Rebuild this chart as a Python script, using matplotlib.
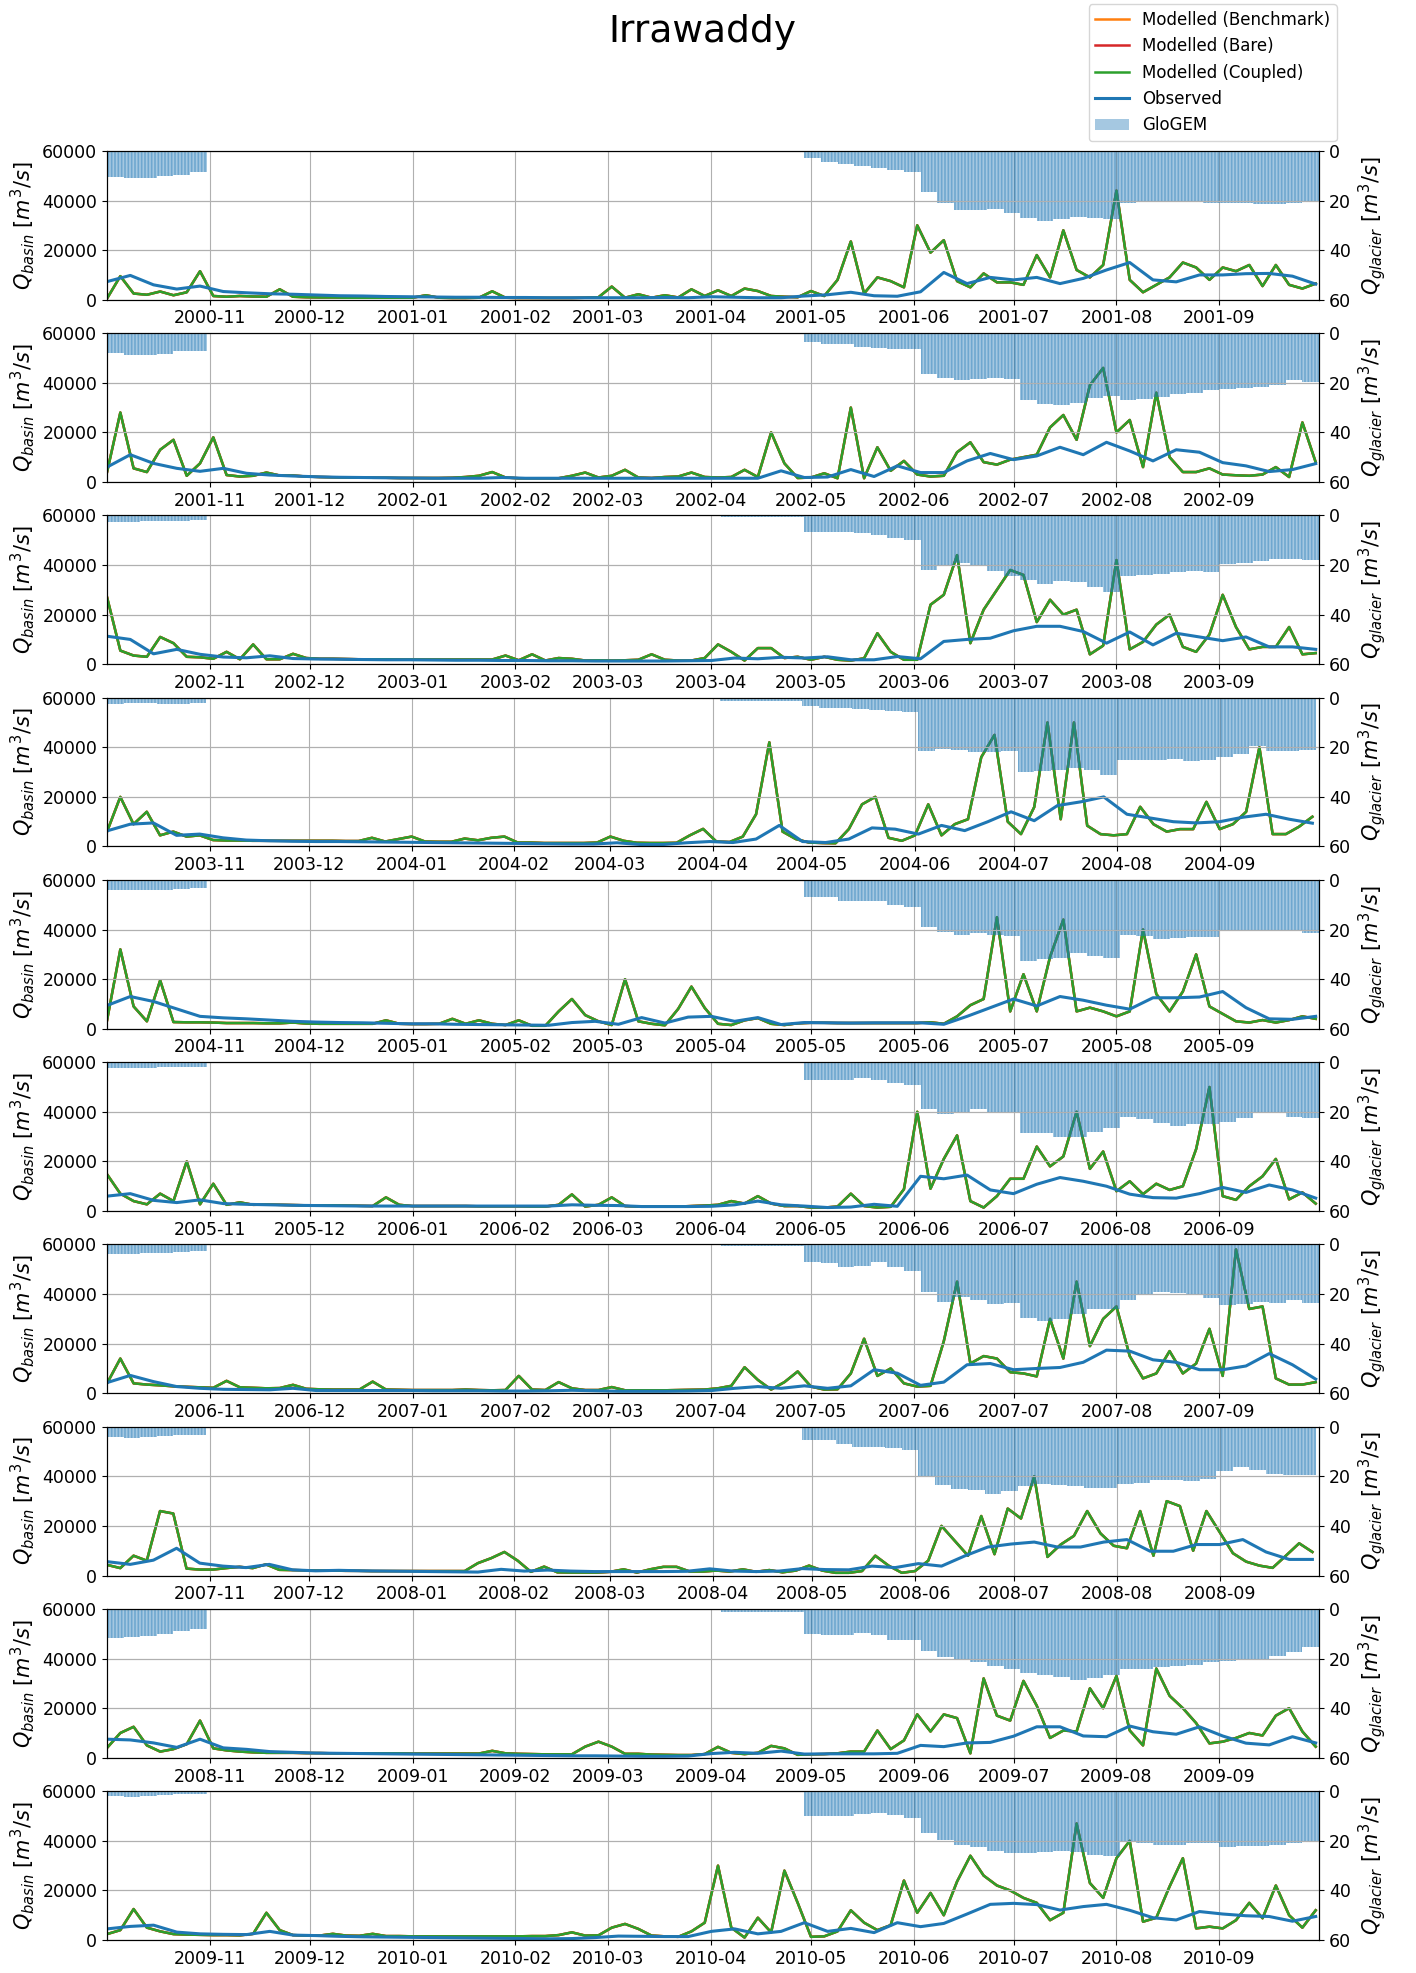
import numpy as np
import pandas as pd
import matplotlib
matplotlib.use("Agg")
import matplotlib.pyplot as plt
import matplotlib.dates as mdates
from matplotlib.patches import Patch

plt.rcParams["hatch.linewidth"] = 1.2

# hydrological years, each panel runs 1 Oct -> 30 Sep
years = [2000, 2001, 2002, 2003, 2004, 2005, 2006, 2007, 2008, 2009]

# modelled basin discharge (coupled run), 1000 m3/s, one value every 4 days from 1 Oct
q_mod_2000 = [0.5, 9.5, 2.5, 2.0, 3.3, 1.8, 3.0, 11.5, 1.5, 1.2, 1.5, 1.3, 1.2, 4.2, 1.2, 1.0, 0.9, 0.9, 0.8, 0.8,
              0.8, 0.8, 0.8, 0.8, 1.8, 0.8, 0.7, 0.7, 0.8, 3.4, 0.8, 0.7, 0.7, 0.7, 0.7, 0.7, 0.8, 1.0, 5.3, 0.8,
              2.2, 0.8, 1.8, 0.9, 4.2, 1.5, 3.8, 1.5, 4.5, 3.5, 1.5, 1.2, 1.0,
              3.5, 1.5, 8, 23.5, 2.5, 9, 7.5, 5, 30, 19, 24, 7.5, 5, 10.6, 7, 7, 6, 18, 9, 28,
              12, 9, 14, 44, 8, 3, 6, 9, 15, 13, 8, 13, 11.5, 14, 5.5, 14, 6, 4.5, 6.5]
q_mod_2001 = [4, 28, 5.5, 4, 13, 17, 2.5, 7.5, 18, 2.8, 2.2, 2.5, 3.8, 2.6, 2.6, 2.2, 2.0, 1.9, 1.8, 1.8,
              1.7, 1.7, 1.6, 1.6, 1.6, 1.6, 1.7, 2.0, 2.5, 4.0, 1.8, 1.5, 1.5, 1.5, 1.5, 2.5, 3.8, 1.8, 2.5, 4.9,
              1.8, 1.6, 2.0, 2.2, 3.8, 2.0, 1.8, 2.0, 4.9, 2.0, 20, 7.5, 1.6,
              1.8, 3.5, 1.5, 30, 1.5, 14, 4.5, 8.5, 3, 2.2, 2.5, 12, 16, 8, 7, 9, 10, 11, 22, 27,
              17, 39, 46, 20, 25, 6, 36, 10, 4, 4, 5.5, 3, 2.7, 2.5, 3, 6, 2, 24, 8]
q_mod_2002 = [27, 5.5, 3.5, 3, 11, 8.5, 3.0, 2.8, 2.2, 5, 2.0, 8, 2.0, 2.0, 4.2, 2.5, 2.2, 2.2, 2.1, 2.0,
              2.0, 2.0, 1.9, 1.9, 1.9, 1.9, 1.9, 1.9, 1.9, 1.9, 3.5, 1.6, 4.0, 1.5, 2.5, 2.2, 1.5, 1.6, 1.5, 1.6,
              1.8, 4.0, 1.8, 1.5, 1.5, 2.5, 8.0, 5.0, 1.5, 6.5, 6.5, 2.5, 3.0,
              1.8, 3.0, 1.8, 1.5, 2.4, 12.5, 5, 1.8, 1.8, 24, 28, 44, 8.5, 22, 30, 38, 36, 17, 26, 20,
              22, 4, 7.5, 42, 6, 9, 16, 20, 7, 5, 12, 28, 15, 6, 7, 7, 15, 4, 4.5]
q_mod_2003 = [6, 20, 9, 14, 4.5, 6, 4, 4.5, 2.6, 2.4, 2.4, 2.3, 2.3, 2.3, 2.3, 2.3, 2.3, 2.3, 2.2, 2.2,
              3.5, 2.0, 3.0, 4.0, 2.0, 1.9, 1.9, 3.2, 2.5, 3.5, 4.0, 1.6, 1.6, 1.4, 1.4, 1.4, 1.4, 1.6, 4.0, 2.3,
              1.5, 1.4, 1.4, 1.5, 4.5, 7.1, 2.0, 1.8, 4.0, 13, 42, 6.0, 3.0,
              1.6, 1.4, 1.3, 7, 17, 20, 3.5, 2.3, 4.5, 17, 4.5, 9, 11, 36, 45, 10, 5, 15.9, 50, 11,
              50, 8.4, 5, 4.5, 5, 16, 9, 6, 7, 7, 18, 7, 9, 14, 40, 5, 5, 8, 12]
q_mod_2004 = [3.4, 32, 9, 3, 19.5, 2.7, 2.6, 2.6, 2.5, 2.3, 2.3, 2.3, 2.2, 2.2, 2.5, 2.1, 2.0, 2.0, 2.0, 2.0,
              2.0, 3.4, 2.0, 1.9, 1.9, 2.0, 4.0, 2.0, 3.4, 2.0, 1.5, 3.4, 1.2, 1.2, 7, 12, 5.5, 3, 1.5, 20,
              3, 2, 1.4, 8, 17, 8.4, 2, 1.5, 3.4, 4.3, 2.0, 1.5, 2.2,
              2.4, 2.4, 2.3, 2.3, 2.3, 2.3, 2.3, 2.3, 2.3, 2.6, 2, 5, 9.5, 12, 45, 7, 22, 7, 29, 44,
              7, 8.5, 7, 5, 7, 40, 14, 7, 15, 30, 9, 6, 3, 2.5, 3.5, 2.5, 3.5, 5, 4]
q_mod_2005 = [14.8, 7, 4, 2.7, 7, 4, 20, 2.7, 11, 2.5, 3.5, 2.5, 2.6, 2.5, 2.4, 2.3, 2.3, 2.3, 2.2, 2.1,
              2.0, 5.5, 2.5, 2.0, 2.0, 2.0, 2.0, 2.0, 1.9, 1.9, 1.9, 1.9, 1.8, 1.8, 2.5, 6.7, 1.8, 2.5, 5.5, 2.0,
              1.8, 1.8, 1.8, 1.8, 2.0, 2.2, 2.5, 4, 3.0, 6, 3.0, 2.0, 2.0,
              1.4, 1.4, 1.8, 7, 2, 1.4, 1.7, 8.8, 40, 9, 21, 30.5, 4, 1.4, 6, 13, 13, 26, 18, 22,
              40, 17, 24, 8, 12, 6.8, 11, 8.5, 10, 25, 50, 6, 4.5, 10, 14, 21, 4.7, 7.5, 3]
q_mod_2006 = [4, 14, 4, 3.5, 3.2, 2.8, 2.6, 2.4, 2.2, 5, 2.4, 2.2, 2.0, 2.1, 3.4, 1.8, 1.6, 1.5, 1.5, 1.5,
              4.7, 1.5, 1.4, 1.3, 1.3, 1.3, 1.3, 1.5, 1.3, 1.2, 1.3, 7, 1.5, 1.3, 4.5, 2.0, 1.3, 1.3, 2.5, 1.2,
              1.2, 1.2, 1.2, 1.3, 1.4, 1.5, 2.0, 3.0, 10.5, 5.4, 1.5, 4.5, 8.8,
              2.7, 1.5, 1.6, 8, 22, 7, 10, 4, 2.7, 3, 21, 45, 12, 15, 14, 8.5, 8, 6.8, 30, 14,
              45, 19, 30, 35, 15, 6, 8, 17, 8, 12, 26, 7, 58, 34, 35, 6, 3.5, 3.5, 4.5]
q_mod_2007 = [4.3, 3, 8, 6, 26, 25, 2.8, 2.4, 2.4, 3.0, 3.5, 3.0, 4.5, 2.3, 2.2, 2.1, 2.0, 2.0, 1.9, 1.9,
              1.8, 1.8, 1.8, 1.8, 1.8, 1.8, 1.8, 1.8, 5.0, 7.0, 9.5, 6.0, 1.5, 3.6, 1.3, 1.2, 1.2, 1.2, 1.5, 2.5,
              1.2, 2.5, 3.5, 3.5, 1.6, 1.6, 2.0, 1.6, 2.5, 1.5, 2.2, 1.3, 2.0,
              4, 2.0, 1.1, 1.1, 1.8, 8, 4, 1.1, 1.8, 6, 20, 14, 8, 24, 8.6, 27, 23, 40, 7.5, 12.5,
              16, 26, 17, 12, 11, 26, 8, 30, 28, 10, 26, 17.5, 9, 5.6, 4, 3.1, 8, 13, 9.5]
q_mod_2008 = [4, 10, 12.5, 5, 2.5, 3.5, 5.5, 15, 3.8, 3.0, 2.5, 2.2, 2.0, 2.0, 2.0, 1.9, 1.9, 1.8, 1.8, 1.8,
              1.8, 1.8, 1.8, 1.7, 1.7, 1.7, 1.7, 1.7, 1.7, 2.8, 1.8, 1.6, 1.5, 1.4, 1.4, 1.4, 4.5, 6.5, 4.5, 1.6,
              1.6, 1.3, 1.2, 1.1, 1.1, 1.5, 4.4, 2.0, 1.5, 2.0, 4.8, 3.8, 1.2,
              1.4, 1.5, 1.8, 2.5, 2.5, 11, 3.5, 7, 17.5, 10.6, 17.5, 16, 1.8, 32, 17, 15, 31, 21, 8, 11,
              10.6, 28, 20, 33, 11, 5, 36, 25, 20, 14, 5.8, 6.5, 8, 10, 9, 17, 20, 10.6, 4.5]
q_mod_2009 = [2.4, 4, 12.5, 5, 3.5, 2.4, 2.2, 2.1, 2.0, 2.0, 1.9, 2.5, 11, 4, 2.0, 1.8, 1.8, 2.5, 1.8, 1.7,
              2.5, 1.6, 1.6, 1.5, 1.5, 1.5, 1.5, 1.5, 1.5, 1.5, 1.5, 1.5, 1.6, 1.6, 2.0, 3.1, 1.8, 1.9, 5, 6.5,
              4.5, 1.8, 1.5, 1.3, 3.5, 7, 30, 5, 1.0, 9, 3.1, 28, 15,
              1.3, 1.5, 3.5, 12, 7, 4, 6, 24, 11, 19, 10, 23.6, 34, 26, 22, 20, 17, 15, 8, 11,
              47, 23, 17, 33, 40, 7.4, 9, 21.6, 33, 4.7, 5.4, 4.7, 8, 15, 8.8, 22, 10, 5, 12]

# observed discharge at the outlet, 1000 m3/s, one value every 7 days from 1 Oct
q_obs_2000 = [7.3, 9.8, 6, 4.3, 5.5, 3.3, 2.8, 2.4, 2.2, 1.9, 1.6, 1.5, 1.3, 1.2, 1.1, 1.0, 1.0, 0.9, 0.9, 0.8,
              0.8, 0.8, 0.8, 0.8, 0.9, 0.8, 1.2, 1.0, 0.8, 0.8, 1.5, 2.0, 3.0, 1.6, 1.4, 3.2, 11, 6.5, 9, 8,
              9, 6.5, 8.6, 12, 15, 8, 7.2, 10, 10, 10.5, 10.6, 9.5, 6.3]
q_obs_2001 = [6, 11, 7.5, 5.5, 4.3, 5.5, 3.5, 2.8, 2.4, 2.1, 1.9, 1.8, 1.7, 1.6, 1.5, 1.5, 1.5, 1.8, 1.5, 1.5,
              1.5, 1.5, 1.5, 1.5, 1.5, 1.5, 1.5, 1.5, 1.5, 4.5, 1.8, 2.0, 5, 2.2, 6.5, 3.8, 3.8, 8.5, 11.5, 9,
              10.5, 14, 11, 16, 12.5, 8.5, 13, 12, 7.8, 6.5, 4.2, 5, 7.4]
q_obs_2002 = [11.3, 10, 4.2, 6, 4, 2.9, 2.6, 3.4, 2.3, 2.1, 2.0, 1.9, 1.8, 1.8, 1.7, 1.6, 1.6, 1.5, 1.5, 1.4,
              1.4, 1.3, 1.3, 1.3, 1.3, 1.4, 1.5, 2.5, 2.2, 2.8, 2.5, 3, 1.8, 1.8, 3.1, 2.2, 9.2, 10, 10.5, 13.5,
              15.3, 15.3, 13.2, 8.5, 13, 7.8, 12.5, 11, 9.5, 11, 7, 7, 6]
q_obs_2003 = [6.3, 9, 9.5, 4.5, 5, 3.5, 2.6, 2.3, 2.1, 2.0, 2.0, 1.9, 1.8, 1.7, 1.6, 1.5, 1.4, 1.3, 1.2, 1.1,
              1.0, 1.0, 1.5, 0.8, 0.8, 1.5, 2.0, 1.6, 3, 8.5, 2, 1.6, 3, 7.5, 7, 5, 8.5, 6.4, 10, 14,
              10.4, 16.5, 18, 20, 13, 11.5, 10, 9.5, 10, 11.8, 13, 11, 9.4]
q_obs_2004 = [9.4, 13, 11, 8, 5, 4.4, 4.0, 3.5, 3.0, 2.7, 2.5, 2.4, 2.2, 2.0, 2.0, 1.8, 1.7, 1.6, 1.5, 1.4,
              2.5, 3.0, 1.8, 4.5, 2.3, 4.7, 5, 3, 4.5, 1.7, 2.5, 2.4, 2.3, 2.4, 2.4, 2.4, 1.8, 5, 8.5, 12,
              9.2, 13, 11.5, 9.5, 7.9, 12.5, 12.5, 12.8, 15, 8.5, 4, 3.8, 5]
q_obs_2005 = [6, 7, 4.3, 3.4, 4.5, 3.0, 2.7, 2.5, 2.3, 2.2, 2.1, 2.0, 2.0, 2.0, 2.0, 2.0, 2.0, 2.0, 2.0, 2.0,
              2.5, 2.3, 2.2, 1.8, 1.8, 1.8, 1.9, 2.5, 4.0, 2.5, 2.0, 1.4, 1.6, 2.7, 1.9, 14, 13, 14.5, 8.5, 7,
              10.8, 13.5, 12, 10, 6.8, 5.4, 5.2, 7, 9.5, 7.5, 10.5, 8.5, 5.2]
q_obs_2006 = [4.3, 7.2, 4.7, 2.7, 2.0, 1.6, 1.5, 1.4, 2.0, 1.1, 1.1, 1.1, 1.1, 1.1, 1.0, 1.0, 1.0, 0.9, 0.9, 1.0,
              1.2, 1.0, 0.8, 0.8, 0.8, 0.9, 1.1, 2.0, 2.7, 2.0, 3.0, 2.0, 3, 9.5, 8.1, 3.2, 4.5, 11.5, 12, 9.5,
              10, 10.4, 12.5, 17.4, 17, 13.5, 12.5, 9.5, 9.5, 11, 16, 11.5, 5.7]
q_obs_2007 = [5.6, 4.5, 6.2, 11, 5, 3.8, 3.2, 4.5, 2.3, 1.9, 2.1, 1.9, 1.8, 1.7, 1.6, 1.5, 1.4, 2.5, 1.8, 2.2,
              1.8, 1.6, 1.6, 1.6, 1.6, 1.7, 2.7, 1.8, 1.6, 1.8, 2.8, 2.4, 2.3, 3.8, 3.2, 4.8, 3.8, 7.9, 11.5, 12.7,
              13.5, 11.5, 11.5, 13.5, 14.5, 9.8, 9.8, 12.5, 12.5, 14.5, 9.5, 6.5, 6.5]
q_obs_2008 = [7.5, 7.2, 6, 4.2, 7.5, 4, 3.4, 2.5, 2.2, 1.9, 1.8, 1.7, 1.6, 1.5, 1.4, 1.3, 1.2, 1.1, 1.0, 0.9,
              0.8, 0.8, 0.7, 0.6, 0.6, 0.7, 1.7, 2.2, 1.8, 2.7, 1.5, 1.6, 1.6, 1.6, 1.8, 5, 4.5, 6, 6.2, 8.7,
              12.5, 12.5, 8.8, 8.5, 12.8, 10.5, 9.5, 12.5, 8.8, 5.9, 5.2, 8.5, 6]
q_obs_2009 = [4.5, 5.5, 6, 3.2, 2.5, 2.3, 2.2, 3.5, 2.0, 1.8, 1.5, 1.3, 1.2, 1.1, 1.0, 0.9, 0.8, 0.7, 0.6, 0.5,
              0.6, 1.0, 1.6, 1.5, 1.4, 1.4, 3.5, 4.5, 2.5, 3.5, 7, 3.5, 4.7, 3, 7, 5.4, 6.7, 10.5, 14.4, 14.8,
              14.3, 12.1, 13.5, 14.4, 12, 9, 8.1, 11.5, 10.5, 9.8, 9.5, 7.6, 9.5]

# GloGEM glacier runoff, m3/s, 5-day values: October, April and May-September blocks
glac_oct_2000 = [10.5, 11.0, 10.8, 10.2, 9.6, 8.5]
glac_apr_2000 = [0.3, 0.3, 0.3, 0.3, 0.3, 0.3]
glac_sum_2000 = [3.0, 4.5, 5.2, 6.0, 6.8, 7.5, 8.5, 16.5, 21, 24, 24, 23.5, 25, 27, 28.3, 27.5, 26.5, 27, 27.5,
                 21, 20.5, 20.5, 20.5, 20.5, 21, 21, 21, 21.5, 21.5, 21, 20.5]
glac_oct_2001 = [8.0, 8.8, 8.7, 8.3, 7.2, 7.0]
glac_apr_2001 = [0, 0, 0, 0, 0, 0]
glac_sum_2001 = [3.5, 4.5, 4.5, 5.5, 6, 6.2, 6.5, 16.3, 18, 19, 18.4, 18, 18.5, 27, 28.5, 29, 28, 26, 25.5,
                 27, 26.5, 25.9, 24.5, 24, 23, 22.4, 22, 21.5, 21, 19, 19.5]
glac_oct_2002 = [2.6, 2.6, 2.4, 2.3, 2.2, 1.9]
glac_apr_2002 = [0, 0.6, 0.6, 0.6, 0.6, 0.6]
glac_sum_2002 = [6.5, 6.8, 6.5, 7, 8, 9, 10, 22, 20, 19, 20.5, 22.5, 24.5, 26, 27.5, 26.5, 27, 29, 31,
                 24.5, 24, 23.5, 23, 22.5, 23, 19.7, 19, 18.4, 17.7, 17.7, 18]
glac_oct_2003 = [2.5, 2.3, 2.2, 2.5, 2.4, 2.2]
glac_apr_2003 = [0.5, 1.2, 1.2, 1.2, 1.2, 1.2]
glac_sum_2003 = [3.4, 4, 4.1, 4.5, 4.8, 5.2, 5.8, 21.4, 20.7, 21, 22, 22, 21.5, 30, 29.5, 29, 28.3, 29, 31,
                 25, 25, 25, 24.8, 25.5, 25, 24, 22.5, 19.5, 21.4, 21.4, 21.2]
glac_oct_2004 = [4, 4, 4.2, 4, 3.5, 3.2]
glac_apr_2004 = [0, 0, 0, 0, 0, 0]
glac_sum_2004 = [6.8, 7, 8.5, 8.5, 8.5, 10, 11, 19, 21, 22, 21.5, 22, 22.5, 32.5, 32, 31.3, 29.5, 30.5, 31.5,
                 22, 22.5, 24, 23.5, 22.8, 22.8, 20.5, 20, 20.5, 20, 20.5, 21.5]
glac_oct_2005 = [2.2, 2.3, 2.2, 2.0, 2.0, 1.8]
glac_apr_2005 = [0.3, 0.5, 0.5, 0.5, 0.5, 0.5]
glac_sum_2005 = [7, 7.3, 7.3, 6.5, 7, 8.5, 9.2, 19, 21, 20, 19, 20.5, 20.5, 28.5, 28.5, 30, 30, 28, 26.5,
                 22, 23, 24.5, 25.8, 25, 25, 24, 22.5, 20.5, 20.3, 22, 22.3]
glac_oct_2006 = [4, 3.8, 3.6, 3.4, 3.0, 2.5]
glac_apr_2006 = [0.2, 0.7, 0.7, 0.7, 0.7, 0.7]
glac_sum_2006 = [7, 7.5, 9, 8.5, 7, 9, 10.5, 19, 23, 21, 22.5, 24, 23.5, 29.5, 31, 30, 28, 26, 26,
                 22.5, 20.5, 19, 19.5, 20.5, 21.5, 24.5, 24, 23, 23.4, 22.5, 23.5]
glac_oct_2007 = [4.3, 4.5, 4.2, 3.6, 3.2, 3.5]
glac_apr_2007 = [0, 0, 0, 0, 0, 0]
glac_sum_2007 = [5.2, 5.5, 7, 8, 8, 8.5, 9.3, 20, 23.5, 25, 25.5, 27, 26, 24, 23, 23.5, 24, 24.5, 24.5,
                 23, 22.5, 21.6, 21.6, 22, 21, 18, 16.2, 17.5, 19, 19.5, 19.5]
glac_oct_2008 = [11.5, 11.2, 11.0, 10, 9, 8.0]
glac_apr_2008 = [0.5, 1.1, 1.1, 1.1, 1.1, 1.1]
glac_sum_2008 = [10, 10.5, 10.3, 9.5, 10.5, 12.5, 12.5, 17, 19.5, 20, 21.5, 23, 24, 26, 26.8, 27.5, 28.5, 28, 26.5,
                 24, 24, 23.5, 23, 22.5, 21.5, 20.8, 20, 20, 19, 17.5, 15.5]
glac_oct_2009 = [2.0, 2.2, 2.0, 1.5, 1.3, 1.1]
glac_apr_2009 = [0, 0, 0, 0, 0, 0]
glac_sum_2009 = [10, 10.1, 9.8, 9.3, 8.8, 9.5, 10.8, 17, 19.6, 21.5, 22.5, 24, 25, 25, 24.5, 24, 24.5, 25.5, 26,
                 20, 21, 21.6, 21.5, 21, 21, 22.5, 22, 22, 21.5, 21, 20.5]

q_mod = dict(zip(years, [q_mod_2000, q_mod_2001, q_mod_2002, q_mod_2003, q_mod_2004,
                         q_mod_2005, q_mod_2006, q_mod_2007, q_mod_2008, q_mod_2009]))
q_obs = dict(zip(years, [q_obs_2000, q_obs_2001, q_obs_2002, q_obs_2003, q_obs_2004,
                         q_obs_2005, q_obs_2006, q_obs_2007, q_obs_2008, q_obs_2009]))
glac_oct = dict(zip(years, [glac_oct_2000, glac_oct_2001, glac_oct_2002, glac_oct_2003, glac_oct_2004,
                            glac_oct_2005, glac_oct_2006, glac_oct_2007, glac_oct_2008, glac_oct_2009]))
glac_apr = dict(zip(years, [glac_apr_2000, glac_apr_2001, glac_apr_2002, glac_apr_2003, glac_apr_2004,
                            glac_apr_2005, glac_apr_2006, glac_apr_2007, glac_apr_2008, glac_apr_2009]))
glac_sum = dict(zip(years, [glac_sum_2000, glac_sum_2001, glac_sum_2002, glac_sum_2003, glac_sum_2004,
                            glac_sum_2005, glac_sum_2006, glac_sum_2007, glac_sum_2008, glac_sum_2009]))

fig, axes = plt.subplots(10, 1, figsize=(14.16, 19.73), dpi=100)
fig.subplots_adjust(left=0.0756, right=0.9315, top=0.9235, bottom=0.0167, hspace=0.225)

handles = None
for ax, yr in zip(axes, years):
    t0 = np.datetime64(f"{yr}-10-01")
    t1 = np.datetime64(f"{yr + 1}-10-01")

    qm = np.array(q_mod[yr]) * 1000
    qo = np.array(q_obs[yr]) * 1000
    # no glacier melt between November and March
    glac = np.concatenate([glac_oct[yr], np.zeros(30), glac_apr[yr], glac_sum[yr]])

    t_mod = mdates.date2num(t0 + 4 * np.arange(len(qm)))
    t_obs = mdates.date2num(t0 + 7 * np.arange(len(qo)))
    t_glac = mdates.date2num(t0 + 5 * np.arange(len(glac)))

    # benchmark and bare runs lie underneath the coupled run
    h1, = ax.plot(t_mod, qm, color="tab:orange", lw=1.8, label="Modelled (Benchmark)")
    h2, = ax.plot(t_mod, qm, color="tab:red", lw=1.8, label="Modelled (Bare)")
    h3, = ax.plot(t_mod, qm, color="tab:green", lw=1.8, label="Modelled (Coupled)")
    h4, = ax.plot(t_obs, qo, color="tab:blue", lw=2.2, label="Observed")

    ax.set_xlim(mdates.date2num(t0), mdates.date2num(t1))
    ax.set_ylim(0, 60000)
    ax.set_yticks([0, 20000, 40000, 60000])
    ticks = pd.date_range(f"{yr}-11-01", periods=11, freq="MS")
    ax.set_xticks(mdates.date2num(ticks.to_numpy()))
    ax.xaxis.set_major_formatter(mdates.DateFormatter("%Y-%m"))
    ax.tick_params(labelsize=12.5)
    ax.grid(True)
    ax.set_ylabel(r"$Q_{basin}$ $[m^3/s]$", fontsize=15)

    # daily-striped glacier bars on an inverted right axis
    ax2 = ax.twinx()
    ax2.bar(t_glac, glac, width=5, align="edge", color="tab:blue", alpha=0.4,
            edgecolor="tab:blue", linewidth=0, hatch="|||||")
    ax2.set_ylim(60, 0)
    ax2.set_yticks([0, 20, 40, 60])
    ax2.tick_params(labelsize=12.5)
    ax2.grid(True)
    ax2.set_ylabel(r"$Q_{glacier}$ $[m^3/s]$", fontsize=15)

    if handles is None:
        handles = [h1, h2, h3, h4, Patch(facecolor="tab:blue", alpha=0.4, label="GloGEM")]

fig.suptitle("Irrawaddy", fontsize=27, x=0.496, y=0.993)
fig.legend(handles=handles, loc="upper right", bbox_to_anchor=(0.947, 1.0), borderaxespad=0.25,
           fontsize=12)

fig.savefig("out.png", dpi=100)
